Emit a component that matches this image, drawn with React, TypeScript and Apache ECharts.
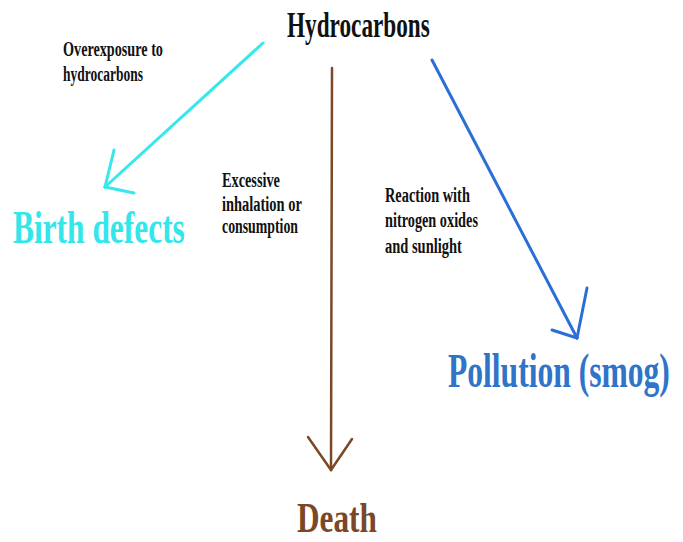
import React, { useEffect, useRef } from "react";
import * as echarts from "echarts";

// Diagram content
const title = "Hydrocarbons";
const outcomes = ["Birth defects", "Death", "Pollution (smog)"];
const causes: string[][] = [
  ["Overexposure to", "hydrocarbons"],
  ["Excessive", "inhalation or", "consumption"],
  ["Reaction with", "nitrogen oxides", "and sunlight"],
];

const FONT = "Liberation Serif";

let ctx: CanvasRenderingContext2D | null = null;
function measure(text: string, size: number, weight: string) {
  if (!ctx) ctx = document.createElement("canvas").getContext("2d");
  if (!ctx) return text.length * size * 0.5;
  ctx.font = `${weight} ${size}px "${FONT}"`;
  return ctx.measureText(text).width;
}

function fitText(
  text: string,
  left: number,
  midY: number,
  size: number,
  width: number,
  color: string,
  weight = "bold"
) {
  const w = measure(text, size, weight);
  return {
    type: "text",
    x: left,
    y: midY,
    scaleX: width / w,
    silent: true,
    style: {
      text,
      x: 0,
      y: 0,
      align: "left",
      verticalAlign: "middle",
      fontFamily: FONT,
      fontSize: size,
      fontWeight: weight,
      fill: color,
    },
  };
}

function seg(x1: number, y1: number, x2: number, y2: number, color: string, w: number) {
  return {
    type: "line",
    silent: true,
    shape: { x1, y1, x2, y2 },
    style: { stroke: color, lineWidth: w, lineCap: "round" },
  };
}

export default function App() {
  const ref = useRef<HTMLDivElement>(null);
  useEffect(() => {
    document.body.style.margin = "0";
    if (!ref.current) return;
    const chart = echarts.init(ref.current, undefined, { renderer: "svg" });
    const cyan = "#34e8ec";
    const cyanText = "#33e6ea";
    const brown = "#7a4826";
    const blue = "#2a6fd6";
    const blueText = "#2f74c9";
    const black = "#111111";
    const graphic: any[] = [
      // arrows
      seg(263, 43, 105, 187, cyan, 3),
      seg(105, 187, 114, 150, cyan, 3),
      seg(105, 187, 134, 193, cyan, 3),
      seg(332, 68, 331, 470, brown, 2.5),
      seg(331, 470, 308, 437, brown, 2.5),
      seg(331, 470, 352, 439, brown, 2.5),
      seg(432, 60, 577, 338, blue, 3),
      seg(577, 338, 587, 288, blue, 3),
      seg(577, 338, 552, 330, blue, 3),
      // title
      fitText(title, 287, 25, 35, 143, black),
      // causes
      fitText(causes[0][0], 63, 50, 20, 100, black),
      fitText(causes[0][1], 63, 75, 20, 80, black),
      fitText(causes[1][0], 222, 181, 20, 58, black),
      fitText(causes[1][1], 222, 204, 20, 80, black),
      fitText(causes[1][2], 222, 227, 20, 76, black),
      fitText(causes[2][0], 385, 195, 20, 85, black),
      fitText(causes[2][1], 385, 221, 20, 93, black),
      fitText(causes[2][2], 385, 246, 20, 77, black),
      // outcomes
      fitText(outcomes[0], 13, 228, 46, 172, cyanText),
      fitText(outcomes[1], 297, 518, 42, 80, brown),
      fitText(outcomes[2], 448, 371, 48, 222, blueText),
    ];
    chart.setOption({
      animation: false,
      backgroundColor: "#ffffff",
      graphic,
    });
    return () => chart.dispose();
  }, []);
  return <div ref={ref} style={{ width: 683, height: 542 }} />;
}
